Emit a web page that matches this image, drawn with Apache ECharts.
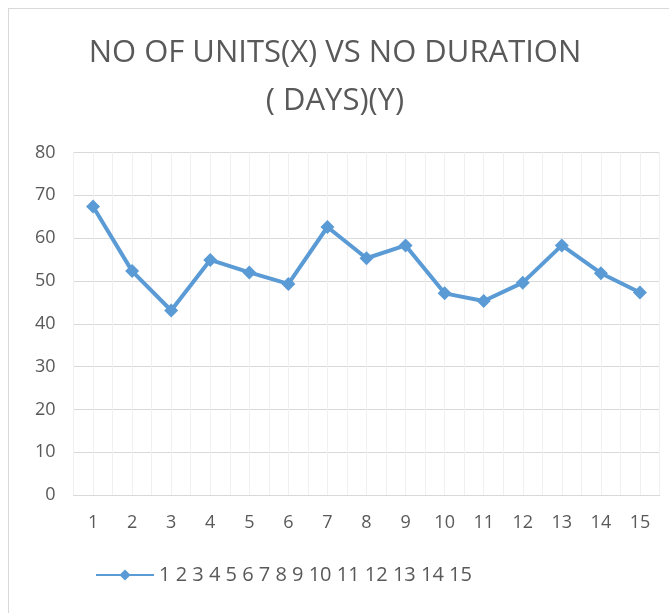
<!DOCTYPE html>
<html>
<head>
<meta charset="utf-8">
<script src="https://cdn.jsdelivr.net/npm/echarts@6/dist/echarts.min.js"></script>
<style>
  html, body { margin: 0; padding: 0; background: #fff; }
  #frame { position: absolute; left: 8px; top: 8px; width: 660px; height: 610px; border-left: 1px solid #d9d9d9; border-top: 1px solid #d9d9d9; }
  #chart { position: absolute; left: 0; top: 0; width: 670px; height: 613px; }
</style>
</head>
<body>
<div id="frame"></div>
<div id="chart"></div>
<script>
// units (x) and duration in days (y)
const units = ['1', '2', '3', '4', '5', '6', '7', '8', '9', '10', '11', '12', '13', '14', '15'];
const duration = [67.4, 52.3, 43.1, 54.9, 52.0, 49.3, 62.6, 55.3, 58.3, 47.1, 45.3, 49.6, 58.3, 51.8, 47.3];
const seriesName = '1 2 3 4 5 6 7 8 9 10 11 12 13 14 15';

const txt = '#595959';
const font = 'Open Sans';

const mychart = echarts.init(document.getElementById('chart'));
mychart.setOption({
  animation: false,
  title: {
    text: 'NO OF UNITS(X) VS NO DURATION\n( DAYS)(Y)',
    left: 'center',
    top: 24,
    textStyle: { color: txt, fontFamily: font, fontWeight: 'normal', fontSize: 31, lineHeight: 48 }
  },
  legend: {
    left: 90,
    top: 560,
    itemWidth: 58,
    itemHeight: 14,
    itemGap: 4,
    textStyle: { color: txt, fontFamily: font, fontSize: 20 },
    data: [seriesName]
  },
  grid: { left: 73.5, right: 10.5, top: 152.5, bottom: 118 },
  xAxis: [
    {
      type: 'category',
      data: units,
      boundaryGap: true,
      axisLine: { lineStyle: { color: '#d9d9d9', width: 1 } },
      axisTick: { show: false },
      axisLabel: { color: txt, fontFamily: font, fontSize: 18, margin: 19 },
      splitLine: { show: true, lineStyle: { color: '#ebebeb' } }
    },
    {
      // minor vertical gridlines through each category centre
      type: 'value',
      min: 0,
      max: 15,
      interval: 0.5,
      position: 'bottom',
      axisLine: { show: false },
      axisTick: { show: false },
      axisLabel: { show: false },
      splitLine: { show: true, lineStyle: { color: '#f0f0f0' } }
    }
  ],
  yAxis: {
    type: 'value',
    min: 0,
    max: 80,
    interval: 10,
    axisLine: { show: false },
    axisTick: { show: false },
    axisLabel: { color: txt, fontFamily: font, fontSize: 18, margin: 18 },
    splitLine: { lineStyle: { color: '#d9d9d9' } }
  },
  series: [{
    name: seriesName,
    type: 'line',
    xAxisIndex: 0,
    data: duration,
    symbol: 'diamond',
    symbolSize: 14,
    itemStyle: { color: '#5b9bd5' },
    lineStyle: { color: '#5b9bd5', width: 4 }
  }]
});
</script>
</body>
</html>
